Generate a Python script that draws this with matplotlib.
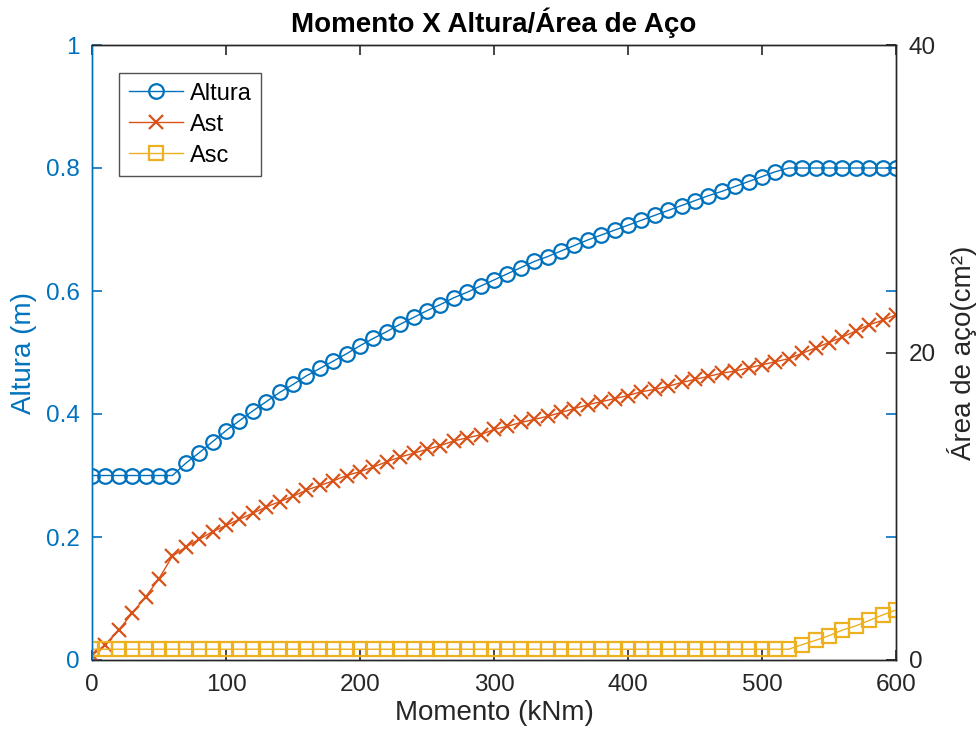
import matplotlib
matplotlib.use('Agg')
import matplotlib.pyplot as plt

# Data
momento = list(range(0, 610, 10))

altura = [0.300, 0.300, 0.300, 0.300, 0.300, 0.300, 0.300,
          0.320, 0.337, 0.355, 0.373, 0.389, 0.405, 0.420, 0.435, 0.448, 0.462,
          0.474, 0.486, 0.498, 0.511, 0.523, 0.534, 0.546, 0.557, 0.568, 0.578,
          0.589, 0.598, 0.608, 0.618, 0.628, 0.638, 0.648, 0.656, 0.665, 0.674,
          0.683, 0.691, 0.699, 0.707, 0.715, 0.723, 0.731, 0.739, 0.747, 0.755,
          0.762, 0.770, 0.778, 0.786, 0.794,
          0.800, 0.800, 0.800, 0.800, 0.800, 0.800, 0.800, 0.800, 0.800]

ast = [0.3, 1.0, 1.95, 3.05, 4.1, 5.3, 6.75, 7.35, 7.85, 8.35,
       8.75, 9.15, 9.55, 9.95, 10.3, 10.65, 11.05, 11.35, 11.65, 12.0,
       12.25, 12.55, 12.9, 13.2, 13.45, 13.7, 13.95, 14.25, 14.45, 14.65,
       15.0, 15.2, 15.45, 15.65, 15.85, 16.1, 16.35, 16.6, 16.8, 17.0,
       17.2, 17.45, 17.6, 17.8, 18.05, 18.25, 18.45, 18.65, 18.8, 19.0,
       19.2, 19.4, 19.6, 19.95, 20.3, 20.65, 21.0, 21.4, 21.8, 22.1,
       22.45]

asc = [0.7] * 53 + [1.0, 1.28, 1.58, 1.95, 2.22, 2.57, 2.93, 3.25]

x_ticks = [0, 100, 200, 300, 400, 500, 600]
left_ticks = [0, 0.2, 0.4, 0.6, 0.8, 1.0]
left_labels = ['0', '0.2', '0.4', '0.6', '0.8', '1']
right_ticks = [0, 20, 40]

BLUE = '#0072BD'
ORANGE = '#D95319'
YELLOW = '#EDB120'
DARK = '#262626'

plt.rcParams['font.family'] = ['Liberation Sans', 'DejaVu Sans']

fig = plt.figure(figsize=(9.8, 7.4), dpi=100)
ax = fig.add_axes([92 / 980, 80 / 740, 804 / 980, 615 / 740])
ax2 = ax.twinx()

l1, = ax.plot(momento, altura, color=BLUE, lw=1.0, marker='o', ms=10.5,
              mfc='none', mew=1.6, label='Altura')
l2, = ax2.plot(momento, ast, color=ORANGE, lw=1.0, marker='x', ms=10.5,
               mew=1.6, label='Ast')
l3, = ax2.plot(momento, asc, color=YELLOW, lw=1.0, marker='s', ms=9.5,
               mfc='none', mew=1.6, label='Asc')

ax.set_xlim(0, 600)
ax.set_ylim(0, 1)
ax2.set_ylim(0, 40)

ax.set_xticks(x_ticks)
ax.set_yticks(left_ticks)
ax.set_yticklabels(left_labels)
ax2.set_yticks(right_ticks)

ax.tick_params(axis='x', direction='in', length=7, width=1.2, colors=DARK,
               labelsize=17.5, top=True, pad=10)
ax.tick_params(axis='y', direction='in', length=7, width=1.2, colors=BLUE,
               labelsize=17.5, right=True, pad=9)
ax2.tick_params(axis='y', direction='in', length=7, width=1.2, colors=DARK,
                labelsize=17.5, pad=9)

for a in (ax, ax2):
    for side in ('top', 'bottom'):
        a.spines[side].set_color(DARK)
        a.spines[side].set_linewidth(1.0)
    a.spines['left'].set_color(BLUE)
    a.spines['right'].set_color(DARK)
    a.spines['left'].set_linewidth(1.0)
    a.spines['right'].set_linewidth(1.0)

ax.set_xlabel('Momento (kNm)', fontsize=20, color=DARK, labelpad=3)
ax.set_ylabel('Altura (m)', fontsize=20, color=BLUE, labelpad=6)
ax2.set_ylabel('Área de aço(cm²)', fontsize=20, color=DARK, labelpad=8)
ax.set_title('Momento X Altura/Área de Aço', fontsize=20, fontweight='bold',
             pad=9)

leg = ax2.legend(handles=[l1, l2, l3], loc='upper left',
                 bbox_to_anchor=(0.034, 0.954), borderaxespad=0,
                 fontsize=17, frameon=True, fancybox=False, edgecolor=DARK,
                 handlelength=2.3, borderpad=0.4, labelspacing=0.38,
                 handletextpad=0.3)
leg.get_frame().set_linewidth(1.0)

fig.savefig('out.png', dpi=100)
plt.close(fig)
